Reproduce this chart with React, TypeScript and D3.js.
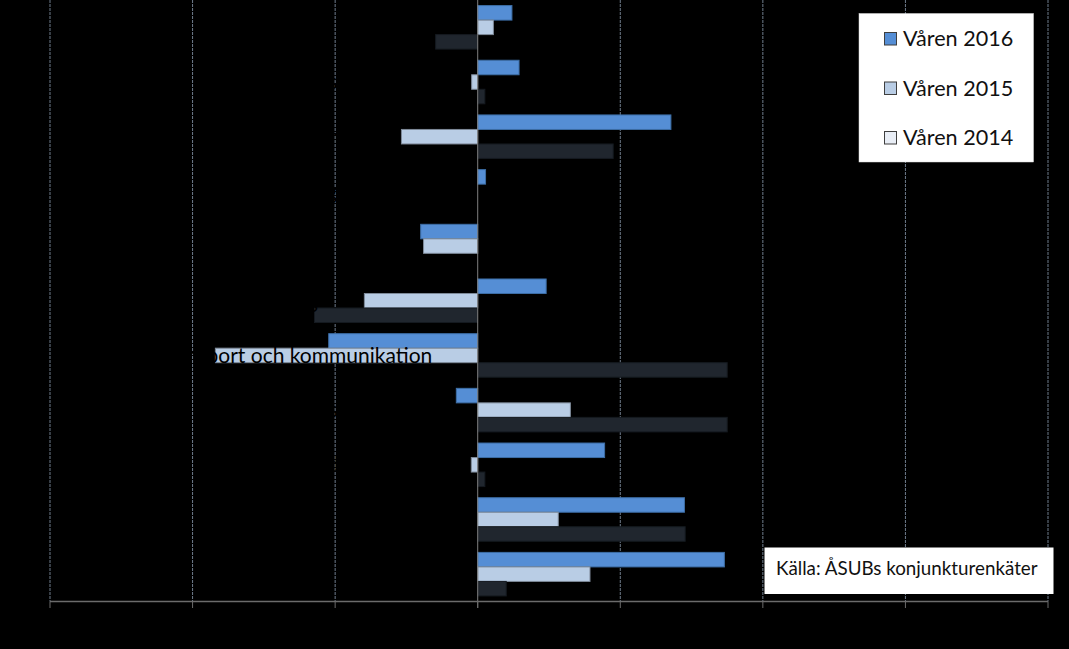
import React from "react";
import * as d3 from "d3";

const categories = [
  "Sjöfart",
  "Övriga tjänster",
  "Finansiering",
  "Restauranger",
  "Handel",
  "Bygg",
  "Transport och kommunikation",
  "Övrig industri",
  "Livsmedelsindustri",
  "Industri",
  "Samtliga",
];
const seriesNames = ["Våren 2016", "Våren 2015", "Våren 2014"];
const v2016 = [4.8, 5.8, 27.1, 1.1, -8.0, 9.6, -20.9, -3.0, 17.8, 29.0, 34.6];
const v2015 = [2.2, -0.85, -10.7, 0, -7.6, -15.9, -36.8, 13.0, -0.9, 11.3, 15.75];
const v2014 = [-5.9, 1.0, 19.0, 0, 0, -22.9, 35.0, 35.0, 1.0, 29.1, 4.0];
const xTicks = [-60, -40, -20, 0, 20, 40, 60, 80];
const sourceText = "Källa: ÅSUBs konjunkturenkäter";

const W = 1069;
const H = 649;
const fills = ["#558ed5", "#b9cde5", "#20262e"];
const strokes = ["#3d6ea6", "#7e8a99", "#151a20"];
const legendFills = ["#558ed5", "#b9cde5", "#e9eef6"];
const FONT = "Lato, 'Open Sans', sans-serif";

export default function App() {
  const x = d3.scaleLinear().domain([-60, 80]).range([50, 1048]);
  const y = d3
    .scaleBand<string>()
    .domain(categories)
    .range([0, 601.5])
    .paddingInner(0.204)
    .paddingOuter(0.102);
  const ys = d3
    .scaleBand<string>()
    .domain(seriesNames)
    .range([0, y.bandwidth()]);
  const all = [v2016, v2015, v2014];
  const x0 = x(0);

  return (
    <svg
      width={W}
      height={H}
      style={{ position: "absolute", left: 0, top: 0, display: "block" }}
    >
      <rect x={0} y={0} width={W} height={H} fill="#000" />
      {/* gridlines */}
      {xTicks
        .filter((t) => t !== 0)
        .map((t) => (
          <line
            key={"g" + t}
            x1={x(t)}
            x2={x(t)}
            y1={0}
            y2={601.5}
            stroke="#6f7c8c"
            strokeWidth={1}
            strokeDasharray="3,1"
          />
        ))}
      {/* bars */}
      {all.map((vals, si) =>
        vals.map((v, ci) => {
          if (v === 0) return null;
          const yy = (y(categories[ci]) ?? 0) + (ys(seriesNames[si]) ?? 0);
          const xa = Math.min(x(v), x0);
          const w = Math.abs(x(v) - x0);
          return (
            <rect
              key={`b${si}-${ci}`}
              x={xa}
              y={yy}
              width={w}
              height={ys.bandwidth()}
              fill={fills[si]}
              stroke={strokes[si]}
              strokeWidth={1}
            />
          );
        })
      )}
      {/* category labels (black) */}
      {categories.map((c) => (
        <text
          key={"l" + c}
          x={295}
          y={(y(c) ?? 0) + y.bandwidth() / 2}
          dy="0.35em"
          textAnchor="middle"
          fontFamily={FONT}
          fontSize={21}
          fill="#000"
        >
          {c}
        </text>
      ))}
      {/* zero axis line */}
      <line x1={x0} x2={x0} y1={0} y2={608} stroke="#7f7f7f" strokeWidth={1} />
      {/* bottom axis */}
      <line x1={x(-60)} x2={x(80)} y1={601.5} y2={601.5} stroke="#6b6b6b" strokeWidth={1.5} />
      {xTicks.map((t) => (
        <line
          key={"t" + t}
          x1={x(t)}
          x2={x(t)}
          y1={601.5}
          y2={608}
          stroke="#6b6b6b"
          strokeWidth={1}
        />
      ))}
      {xTicks.map((t) => (
        <text
          key={"tl" + t}
          x={x(t)}
          y={628}
          textAnchor="middle"
          fontFamily={FONT}
          fontSize={18}
          fill="#000"
        >
          {t}
        </text>
      ))}
      {/* legend */}
      <rect x={859} y={13.5} width={174.5} height={148.5} fill="#fff" stroke="#d9d9d9" strokeWidth={0.5} />
      {seriesNames.map((s, i) => (
        <g key={"lg" + s} transform={`translate(0, ${38.5 + i * 49.5})`}>
          <rect x={884.5} y={-6} width={12} height={12.5} fill={legendFills[i]} stroke="#3f3f3f" strokeWidth={1} />
          <text x={903} y={0} dy="0.36em" fontFamily={FONT} fontSize={21.6} fill="#111">
            {s}
          </text>
        </g>
      ))}
      {/* source box */}
      <rect x={764.5} y={547.5} width={289} height={46.5} fill="#fff" />
      <text x={776} y={568} dy="0.35em" fontFamily={FONT} fontSize={18.8} fill="#111">
        {sourceText}
      </text>
    </svg>
  );
}
